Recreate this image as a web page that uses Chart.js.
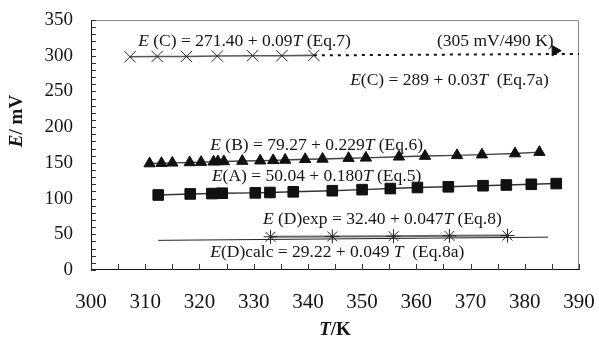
<!DOCTYPE html>
<html><head><meta charset="utf-8">
<script src="https://cdn.jsdelivr.net/npm/chart.js@4.4.1/dist/chart.umd.min.js"></script>
<style>html,body{margin:0;padding:0;background:#fff}#wrap{width:599px;height:342px}</style>
</head><body><div id="wrap"><canvas id="c" width="599" height="342"></canvas></div>
<script>
// ---- data ----
const xTickLabels = [300, 310, 320, 330, 340, 350, 360, 370, 380, 390];
const yTickLabels = [0, 50, 100, 150, 200, 250, 300, 350];

const seriesC_T = [307.2, 312.2, 317.6, 323.3, 329.8, 335.2, 341.1];
const seriesC_E = [298.5, 299, 299, 299.5, 300, 300, 300.5];
const extC_T = [341.1, 390];
const extC_E = [300.5, 302.5];
const arrowC_T = [385.6];
const arrowC_E = [307];

const seriesB_T = [310.8, 313.0, 315.0, 318.2, 320.3, 322.6, 323.4, 324.5, 327.9, 331.2, 333.6, 335.8, 339.5, 342.7, 347.5, 350.7, 356.8, 361.6, 367.5, 372.1, 378.2, 382.7];
const seriesB_E = [149, 149.5, 150, 150.5, 151, 151.5, 152, 152, 152.5, 153, 153.5, 154, 155, 155.5, 156.5, 157, 158.5, 159.5, 160.5, 161.5, 163, 165];

const seriesA_T = [312.4, 318.3, 322.3, 324.2, 330.3, 333.0, 337.3, 344.5, 350.0, 355.2, 360.2, 365.9, 372.3, 376.6, 381.2, 385.8];
const seriesA_E = [105, 106.5, 107, 107.5, 108, 108.5, 109.5, 111, 112.5, 114, 115.5, 116.5, 118, 119, 120, 121];

const seriesD_T = [333.1, 344.5, 355.8, 366.1, 376.8];
const seriesD_E = [46.5, 47, 47.3, 47.8, 48.2];
const calcD_T = [312.4, 384.3];
const calcD_E = [41.5, 46];

// annotation texts: [text, style] ('i' = italic)
const labelEq7  = [['E','i'],[' (C) = 271.40 + 0.09',''],['T','i'],[' (Eq.7)','']];
const labelNote = [['(305 mV/490 K)','']];
const labelEq7a = [['E','i'],['(C) = 289 + 0.03',''],['T','i'],['  (Eq.7a)','']];
const labelEq6  = [['E','i'],[' (B) = 79.27 + 0.229',''],['T','i'],[' (Eq.6)','']];
const labelEq5  = [['E','i'],['(A) = 50.04 + 0.180',''],['T','i'],[' (Eq.5)','']];
const labelEq8  = [['E','i'],[' (D)exp = 32.40 + 0.047',''],['T','i'],[' (Eq.8)','']];
const labelEq8a = [['E','i'],['(D)calc = 29.22 + 0.049 ',''],['T','i'],['  (Eq.8a)','']];
const xTitle = [['T','i'],['/K','']];
const yTitle = [['E','i'],['/ mV','']];

const pts = (xs, ys) => xs.map((x, i) => ({x: x, y: ys[i]}));
const SERIF = '"Liberation Serif", "Times New Roman", serif';

function drawRich(ctx, parts, x, y, size, bold, align) {
  let w = 0;
  for (const [t, st] of parts) {
    ctx.font = (st === 'i' ? 'italic ' : '') + (bold ? 'bold ' : '') + size + 'px ' + SERIF;
    w += ctx.measureText(t).width;
  }
  let cx = align === 'center' ? x - w / 2 : x;
  for (const [t, st] of parts) {
    ctx.font = (st === 'i' ? 'italic ' : '') + (bold ? 'bold ' : '') + size + 'px ' + SERIF;
    ctx.fillText(t, cx, y);
    cx += ctx.measureText(t).width;
  }
}

const decor = {
  id: 'decor',
  beforeDatasetsDraw(chart) {
    const {ctx, chartArea: a, scales: {x, y}} = chart;
    ctx.save();
    ctx.strokeStyle = '#888';
    ctx.lineWidth = 1;
    ctx.beginPath();
    ctx.moveTo(a.left, a.top + 0.5); ctx.lineTo(a.right - 0.5, a.top + 0.5); ctx.lineTo(a.right - 0.5, a.bottom);
    ctx.stroke();
    ctx.strokeStyle = '#111';
    ctx.beginPath();
    ctx.moveTo(a.left + 0.5, a.top); ctx.lineTo(a.left + 0.5, a.bottom - 0.5); ctx.lineTo(a.right, a.bottom - 0.5);
    ctx.stroke();
    ctx.strokeStyle = '#333';
    ctx.beginPath();
    for (let v = 0; v <= 350; v += 10) {
      const py = Math.round(y.getPixelForValue(v)) + 0.5;
      ctx.moveTo(a.left, py); ctx.lineTo(a.left + 5, py);
    }
    for (let v = 300; v <= 390; v += 5) {
      const px = Math.round(x.getPixelForValue(v)) + 0.5;
      ctx.moveTo(px, a.bottom); ctx.lineTo(px, a.bottom - 6);
    }
    ctx.stroke();
    ctx.restore();
  },
  afterDraw(chart) {
    const {ctx, scales: {x, y}} = chart;
    ctx.save();
    ctx.fillStyle = '#151515';
    ctx.textBaseline = 'middle';
    const put = (parts, T, E) => drawRich(ctx, parts, x.getPixelForValue(T), y.getPixelForValue(E), 17.5, false, 'left');
    put(labelEq7, 308.7, 319.6);
    put(labelNote, 363.8, 319.6);
    put(labelEq7a, 347.8, 266);
    put(labelEq6, 322, 175);
    put(labelEq5, 322.3, 130.6);
    put(labelEq8, 331.7, 71.5);
    put(labelEq8a, 322, 24.5);
    drawRich(ctx, xTitle, 335, 330, 19, true, 'center');
    ctx.translate(17, 121);
    ctx.rotate(-Math.PI / 2);
    drawRich(ctx, yTitle, 0, 0, 19, true, 'center');
    ctx.restore();
  }
};

new Chart(document.getElementById('c'), {
  type: 'scatter',
  data: {
    datasets: [
      {data: pts(extC_T, extC_E), showLine: true, borderColor: '#111', borderWidth: 2, borderDash: [3, 5], pointRadius: 0},
      {data: pts(arrowC_T, arrowC_E), pointStyle: 'triangle', rotation: 90, pointRadius: 6, backgroundColor: '#111', borderColor: '#111'},
      {data: pts(seriesC_T, seriesC_E), showLine: true, borderColor: '#555', borderWidth: 1.6, pointStyle: 'crossRot', pointRadius: 8, pointBorderWidth: 1, pointBorderColor: '#222'},
      {data: pts(seriesB_T, seriesB_E), showLine: true, borderColor: '#444', borderWidth: 1.4, pointStyle: 'triangle', pointRadius: 6.5, backgroundColor: '#111', pointBorderColor: '#111', pointBorderWidth: 1},
      {data: pts(seriesA_T, seriesA_E), showLine: true, borderColor: '#333', borderWidth: 1.4, pointStyle: 'rect', pointRadius: 7.5, backgroundColor: '#111', pointBorderColor: '#111', pointBorderWidth: 1},
      {data: pts(calcD_T, calcD_E), showLine: true, borderColor: '#222', borderWidth: 1, pointRadius: 0},
      {data: pts(seriesD_T, seriesD_E), showLine: true, borderColor: '#666', borderWidth: 2, pointStyle: 'star', pointRadius: 7, pointBorderWidth: 1, pointBorderColor: '#222'}
    ]
  },
  options: {
    responsive: false,
    animation: false,
    events: [],
    layout: {padding: {top: 20, right: 20, left: 0, bottom: 0}},
    plugins: {legend: {display: false}, tooltip: {enabled: false}},
    scales: {
      x: {
        type: 'linear', min: 300, max: 390,
        afterFit: s => { s.height = 72; s.paddingLeft = 0; s.paddingRight = 0; },
        afterBuildTicks: s => { s.ticks = xTickLabels.map(v => ({value: v})); },
        grid: {display: false, drawTicks: false},
        border: {display: false},
        ticks: {padding: 20, color: '#151515', font: {family: SERIF, size: 21}, maxRotation: 0, autoSkip: false}
      },
      y: {
        type: 'linear', min: 0, max: 350,
        afterFit: s => { s.width = 91; s.paddingTop = 0; s.paddingBottom = 0; },
        afterBuildTicks: s => { s.ticks = yTickLabels.map(v => ({value: v})); },
        grid: {display: false, drawTicks: false},
        border: {display: false},
        ticks: {padding: 18, color: '#151515', font: {family: SERIF, size: 19}}
      }
    }
  },
  plugins: [decor]
});
</script>
</body></html>
